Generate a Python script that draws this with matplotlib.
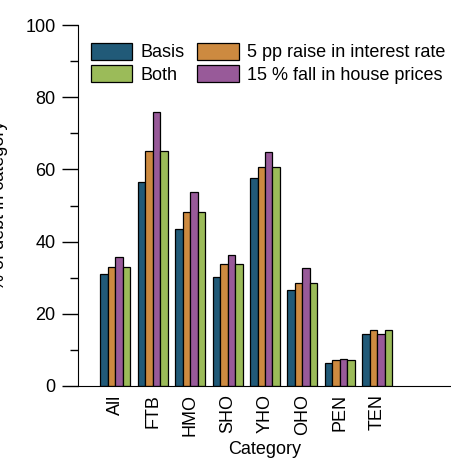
import numpy as np
import matplotlib
matplotlib.use("Agg")
import matplotlib.pyplot as plt
from matplotlib.ticker import MultipleLocator

plt.rcParams['font.family'] = ['Liberation Sans', 'DejaVu Sans']

categories = ["All", "FTB", "HMO", "SHO", "YHO", "OHO", "PEN", "TEN"]
basis = [31.1, 56.5, 43.4, 30.1, 57.5, 26.7, 6.5, 14.5]
interest = [33.1, 65.0, 48.3, 33.9, 60.7, 28.4, 7.3, 15.4]
house = [35.8, 75.9, 53.8, 36.3, 64.7, 32.6, 7.6, 14.5]
both = [33.1, 65.0, 48.3, 33.9, 60.7, 28.4, 7.3, 15.4]

series = [
    ("Basis", basis, "#215a78"),
    ("5 pp raise in interest rate", interest, "#cd8a40"),
    ("15 % fall in house prices", house, "#985a99"),
    ("Both", both, "#9bbb59"),
]

fig = plt.figure(figsize=(4.52, 4.58), dpi=100)
ax = fig.add_axes([78 / 452, 1 - 386 / 458, 1 - 78 / 452, (386 - 25) / 458])

x = np.arange(len(categories))
w = 0.2
handles = {}
for i, (name, vals, col) in enumerate(series):
    b = ax.bar(x + (i - 1.5) * w, vals, w, color=col, edgecolor="black",
               linewidth=0.9, label=name)
    handles[name] = b

ax.set_xlim(-1, 9)
ax.set_ylim(0, 100)
ax.set_xticks(x)
ax.set_xticklabels(categories, rotation=90, fontsize=13)
ax.tick_params(axis="x", length=0, pad=6)
ax.yaxis.set_major_locator(MultipleLocator(20))
ax.yaxis.set_minor_locator(MultipleLocator(10))
ax.tick_params(axis="y", which="major", length=11.2, width=1, labelsize=13, pad=5)
ax.tick_params(axis="y", which="minor", length=5.8, width=1)
for s in ["top", "right"]:
    ax.spines[s].set_visible(False)

ax.set_xlabel("Category", fontsize=13, labelpad=3)
ax.set_ylabel("% of debt in category", fontsize=13)
ax.yaxis.set_label_coords((8 - 78) / 374, 0.5)

order = ["Basis", "Both", "5 pp raise in interest rate", "15 % fall in house prices"]
ax.legend([handles[n] for n in order], order, ncol=2, frameon=False,
          fontsize=13, loc="upper left", bbox_to_anchor=(0.034, 0.951),
          handlelength=2.3, handleheight=1.1, handletextpad=0.45,
          labelspacing=0.18, columnspacing=0.7, borderaxespad=0, borderpad=0)

fig.savefig("out.png", dpi=100)
